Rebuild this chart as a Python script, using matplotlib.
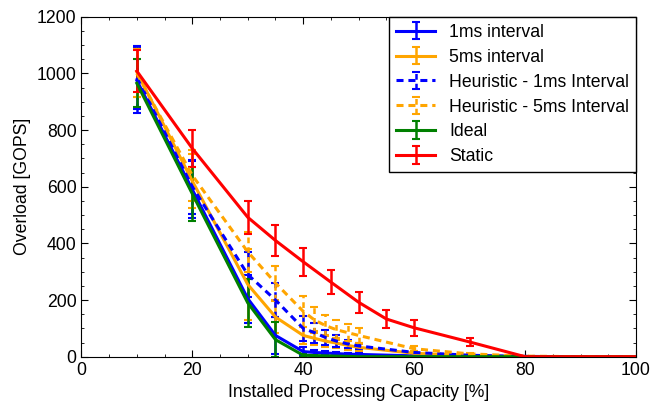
import matplotlib
matplotlib.use('Agg')
import matplotlib.pyplot as plt
from matplotlib.ticker import MultipleLocator

plt.rcParams['font.family'] = ['Liberation Sans', 'DejaVu Sans']

# shared x grid for the interval / heuristic runs
x_int = [10, 20, 30, 35, 40, 42, 44, 46, 48, 50, 60, 70, 80, 90, 100]

ms1 = [975, 590, 205, 75, 18, 15, 13, 11, 9, 8, 3, 1, 0, 0, 0]
ms1_err = [115, 100, 85, 65, 15, 10, 8, 6, 5, 4, 2, 1, 0, 0, 0]

ms5 = [1005, 620, 255, 140, 75, 65, 55, 48, 40, 33, 12, 4, 0, 0, 0]
ms5_err = [90, 95, 125, 55, 30, 25, 20, 18, 15, 12, 5, 2, 0, 0, 0]

heur1 = [985, 600, 290, 200, 100, 85, 68, 55, 45, 38, 15, 5, 1, 0, 0]
heur1_err = [110, 95, 80, 60, 45, 35, 25, 20, 15, 12, 5, 2, 0, 0, 0]

heur5 = [1000, 640, 370, 260, 160, 130, 110, 95, 85, 75, 28, 10, 2, 0, 0]
heur5_err = [85, 90, 70, 60, 55, 45, 38, 35, 30, 25, 8, 3, 0, 0, 0]

x_ideal = [10, 20, 30, 35, 40, 50, 60, 70, 80, 90, 100]
ideal = [965, 575, 190, 60, 5, 0, 0, 0, 0, 0, 0]
ideal_err = [85, 95, 85, 62, 5, 0, 0, 0, 0, 0, 0]

x_static = [10, 20, 30, 35, 40, 45, 50, 55, 60, 70, 80, 90, 100]
static = [1008, 735, 492, 410, 335, 263, 192, 133, 102, 52, 0, 0, 0]
static_err = [75, 65, 58, 55, 50, 42, 38, 32, 28, 13, 0, 0, 0]

fig = plt.figure(figsize=(6.67, 4.07), dpi=100)
ax = fig.add_axes([0.122, 0.1236, 0.8315, 0.8354])

kw = dict(lw=2.2, elinewidth=1.8, capsize=3, capthick=1.5)
dash = (2.3, 1.6)
ax.errorbar(x_int, ms1, yerr=ms1_err, color='#0000ff', label='1ms interval', **kw)
ax.errorbar(x_int, ms5, yerr=ms5_err, color='#ffa500', label='5ms interval', **kw)
h1 = ax.errorbar(x_int, heur1, yerr=heur1_err, color='#0000ff',
                 label='Heuristic - 1ms Interval', **kw)
h1.lines[0].set_dashes(dash)
h1.lines[2][0].set_linestyle((0, dash))
h5 = ax.errorbar(x_int, heur5, yerr=heur5_err, color='#ffa500',
                 label='Heuristic - 5ms Interval', **kw)
h5.lines[0].set_dashes(dash)
h5.lines[2][0].set_linestyle((0, dash))
ax.errorbar(x_ideal, ideal, yerr=ideal_err, color='#008000', label='Ideal', **kw)
ax.errorbar(x_static, static, yerr=static_err, color='#ff0000', label='Static', **kw)

ax.set_xlim(0, 100)
ax.set_ylim(0, 1200)
ax.xaxis.set_major_locator(MultipleLocator(20))
ax.xaxis.set_minor_locator(MultipleLocator(5))
ax.yaxis.set_major_locator(MultipleLocator(200))
ax.yaxis.set_minor_locator(MultipleLocator(50))
ax.tick_params(which='both', direction='in', top=True, right=True, labelsize=12.7)
ax.tick_params(which='major', length=5)
ax.tick_params(which='minor', length=2.5)

ax.set_xlabel('Installed Processing Capacity [%]', fontsize=12.7)
ax.set_ylabel('Overload [GOPS]', fontsize=12.7)

leg = ax.legend(loc='upper right', fontsize=12.7, borderaxespad=0, fancybox=False,
                framealpha=1, edgecolor='black', handlelength=2.2, labelspacing=0.45)
leg.get_frame().set_linewidth(1.0)

fig.savefig('out.png', dpi=100)
